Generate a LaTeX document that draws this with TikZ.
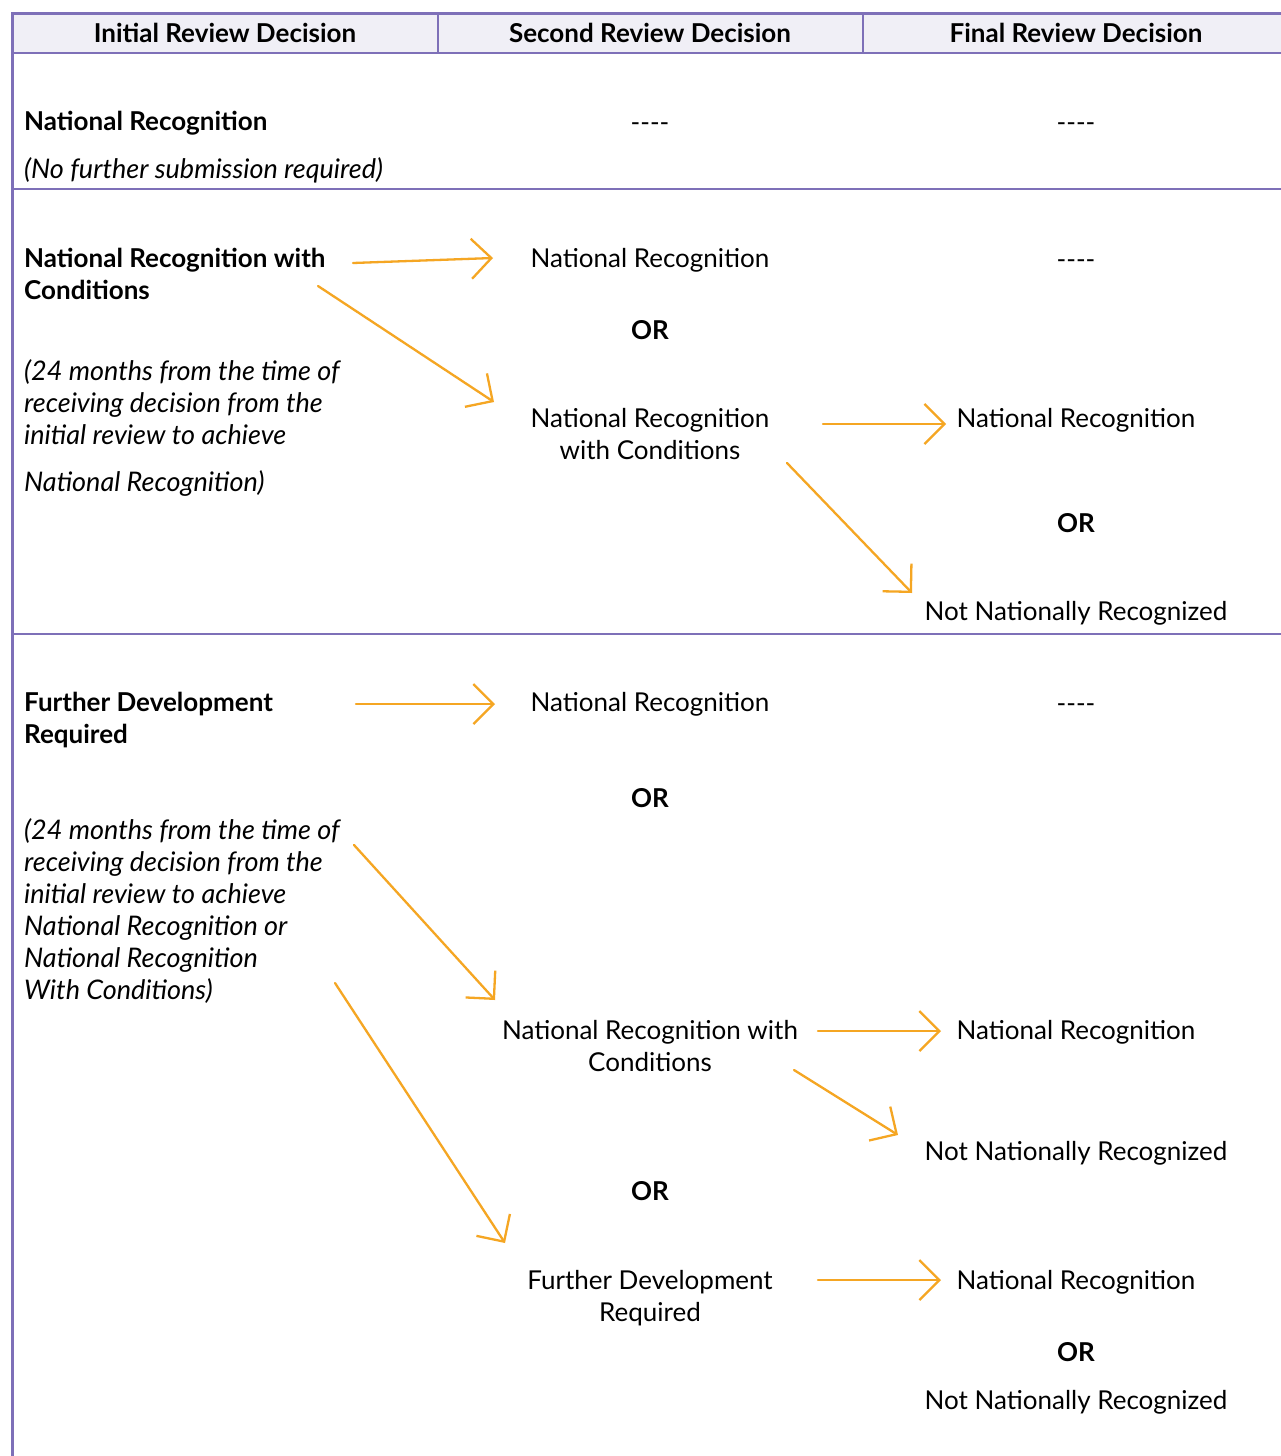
\documentclass[tikz,border=0pt]{standalone}
\usepackage{fontspec}
\setmainfont{Lato}
\usetikzlibrary{arrows.meta}
\definecolor{lav}{HTML}{7E70B8}
\definecolor{hdr}{HTML}{F0EFF6}
\definecolor{org}{HTML}{F5A623}
\tikzset{
  txt/.style={inner sep=0pt, anchor=base, yshift=-8.5pt, font=\fontsize{26}{30}\selectfont},
  ltxt/.style={txt, anchor=base west},
  btxt/.style={txt, font=\fontsize{26}{30}\selectfont\bfseries},
  lbtxt/.style={btxt, anchor=base west},
  itxt/.style={ltxt, font=\fontsize{27}{30}\selectfont\itshape},
  arr/.style={draw=org, line width=2.3pt, line cap=round, -{Straight Barb[length=20pt,width=40pt,line width=2.3pt]}},
  rule/.style={draw=lav, line width=2.2pt},
}
\newcommand{\dashes}{-{}-{}-{}-}
\begin{document}
\begin{tikzpicture}[x=1pt,y=-1pt]
\useasboundingbox (0,0) rectangle (1280,1456);
\fill[white] (0,0) rectangle (1280,1456);
% header
\fill[hdr] (12,13) rectangle (1290,53);
\draw[rule, line width=3pt] (1290,13) -- (12,13) -- (12,1460);
\draw[rule, line width=2.6pt] (12,53) -- (1290,53);
\draw[rule] (438,13) -- (438,53);
\draw[rule] (863,13) -- (863,53);
\draw[rule] (12,189) -- (1290,189);
\draw[rule] (12,634) -- (1290,634);
\node[btxt] (h1) at (225,34) {Initial Review Decision};
\node[btxt] (h2) at (650,34) {Second Review Decision};
\node[btxt] (h3) at (1076,34) {Final Review Decision};
% row 1
\node[lbtxt] (r1a) at (24,122) {National Recognition};
\node[itxt] (r1b) at (24,170) {(No further submission required)};
\node[txt] (r1c) at (650,123) {\dashes};
\node[txt] (r1d) at (1076,123) {\dashes};
% row 2
\node[lbtxt] (r2a) at (24,259) {National Recognition with};
\node[lbtxt] (r2b) at (24,291) {Conditions};
\node[itxt] (r2c) at (24,372) {(24 months from the time of};
\node[itxt] (r2d) at (24,404) {receiving decision from the};
\node[itxt] (r2e) at (24,436) {initial review to achieve};
\node[itxt] (r2f) at (24,483) {National Recognition)};
\node[txt] (r2g) at (650,259) {National Recognition};
\node[btxt] (r2h) at (650,331) {OR};
\node[txt] (r2i) at (650,419) {National Recognition};
\node[txt] (r2j) at (650,451) {with Conditions};
\node[txt] (r2k) at (1076,260) {\dashes};
\node[txt] (r2l) at (1076,419) {National Recognition};
\node[btxt] (r2m) at (1076,524) {OR};
\node[txt] (r2n) at (1076,612) {Not Nationally Recognized};
% row 3
\node[lbtxt] (r3a) at (24,703) {Further Development};
\node[lbtxt] (r3b) at (24,735) {Required};
\node[itxt] (r3c) at (24,831) {(24 months from the time of};
\node[itxt] (r3d) at (24,863) {receiving decision from the};
\node[itxt] (r3e) at (24,895) {initial review to achieve};
\node[itxt] (r3f) at (24,927) {National Recognition or};
\node[itxt] (r3g) at (24,959) {National Recognition};
\node[itxt] (r3h) at (24,991) {With Conditions)};
\node[txt] (r3i) at (650,703) {National Recognition};
\node[btxt] (r3j) at (650,799) {OR};
\node[txt] (r3k) at (650,1031) {National Recognition with};
\node[txt] (r3l) at (650,1063) {Conditions};
\node[btxt] (r3m) at (650,1192) {OR};
\node[txt] (r3n) at (650,1281) {Further Development};
\node[txt] (r3o) at (650,1313) {Required};
\node[txt] (r3p) at (1076,704) {\dashes};
\node[txt] (r3q) at (1076,1031) {National Recognition};
\node[txt] (r3r) at (1076,1152) {Not Nationally Recognized};
\node[txt] (r3s) at (1076,1281) {National Recognition};
\node[btxt] (r3t) at (1076,1353) {OR};
\node[txt] (r3u) at (1076,1401) {Not Nationally Recognized};
% arrow end coordinates
\coordinate (a1s) at (353,263); \coordinate (a1e) at (493,258);
\coordinate (a2s) at (318,286); \coordinate (a2e) at (494,402);
\coordinate (a3s) at (823,424); \coordinate (a3e) at (946,424);
\coordinate (a4s) at (787,463); \coordinate (a4e) at (912,593);
\coordinate (a5s) at (356,704); \coordinate (a5e) at (495,704);
\coordinate (a6s) at (354,845); \coordinate (a6e) at (495,1000);
\coordinate (a7s) at (335,983); \coordinate (a7e) at (505,1243);
\coordinate (a8s) at (818,1031); \coordinate (a8e) at (941,1031);
\coordinate (a9s) at (794,1070); \coordinate (a9e) at (898,1135);
\coordinate (a10s) at (818,1280); \coordinate (a10e) at (941,1280);
\foreach \i in {1,...,10} {\draw[arr] (a\i s) -- (a\i e);}
\end{tikzpicture}
\end{document}
